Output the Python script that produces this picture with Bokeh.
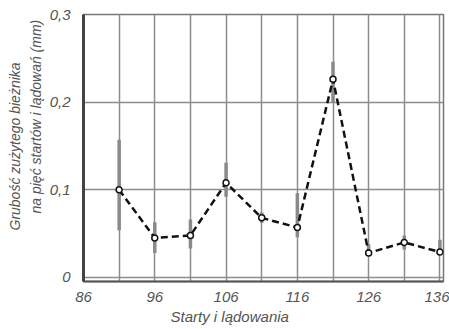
from bokeh.plotting import figure
from bokeh.models import FixedTicker, ColumnDataSource, Range1d, Title
from bokeh.embed import file_html
from bokeh.resources import INLINE

x_vals = [91, 96, 101, 106, 111, 116, 121, 126, 131, 136]
y_vals = [0.100, 0.045, 0.048, 0.108, 0.068, 0.057, 0.226, 0.028, 0.040, 0.029]
err_lo = [0.054, 0.028, 0.033, 0.092, 0.062, 0.046, 0.200, 0.025, 0.032, 0.026]
err_hi = [0.157, 0.063, 0.066, 0.131, 0.074, 0.096, 0.246, 0.038, 0.048, 0.043]
x_ticks = [86, 96, 106, 116, 126, 136]
x_grid = [86, 91, 96, 101, 106, 111, 116, 121, 126, 131, 136]
y_ticks = [0, 0.1, 0.2, 0.3]
y_tick_labels = {0: "0", 0.1: "0,1", 0.2: "0,2", 0.3: "0,3"}
x_title = "Starty i lądowania"
y_title_1 = "Grubość zużytego bieżnika"
y_title_2 = "na pięć startów i lądowań (mm)"

FONT = "Liberation Sans"
TXT = "#555555"

p = figure(width=449, height=329, output_backend="svg", toolbar_location=None,
           x_range=Range1d(86, 136.5), y_range=Range1d(-0.0046, 0.3),
           min_border_left=83, min_border_right=6, min_border_top=14, min_border_bottom=48)
p.background_fill_color = "white"
p.border_fill_color = "white"
p.outline_line_color = "#777777"
p.outline_line_width = 1.5

src = ColumnDataSource(dict(x=x_vals, y=y_vals, lo=err_lo, hi=err_hi))
p.segment(x0="x", y0="lo", x1="x", y1="hi", source=src, line_color="#8a8a8a", line_width=3.5)
p.line(x="x", y="y", source=src, line_color="#111111", line_width=2.5, line_dash="7 4")
p.scatter(x="x", y="y", source=src, size=6, fill_color="white", line_color="#111111", line_width=1.5)

p.xaxis.ticker = FixedTicker(ticks=x_ticks)
p.yaxis.ticker = FixedTicker(ticks=y_ticks)
p.yaxis.major_label_overrides = y_tick_labels
p.xgrid.ticker = FixedTicker(ticks=x_grid)
p.ygrid.ticker = FixedTicker(ticks=y_ticks)
p.xgrid.grid_line_color = "#8c8c8c"
p.ygrid.grid_line_color = "#8c8c8c"
p.xgrid.grid_line_width = 1.5
p.ygrid.grid_line_width = 1.5

for ax in (p.xaxis, p.yaxis):
    ax.major_tick_line_color = None
    ax.minor_tick_line_color = None
    ax.major_label_text_font = FONT
    ax.major_label_text_font_style = "italic"
    ax.major_label_text_font_size = "15px"
    ax.major_label_text_color = TXT

p.yaxis.axis_line_color = "#444444"
p.yaxis.axis_line_width = 3
p.xaxis.axis_line_color = "#555555"
p.xaxis.axis_line_width = 2
p.xaxis.major_label_standoff = 4
p.yaxis.major_label_standoff = 7


def mk_title(text, size, align, offset, standoff):
    t = Title(text=text, align=align, offset=offset, standoff=standoff,
              text_font=FONT, text_font_style="italic", text_font_size=size,
              text_color=TXT)
    return t

p.add_layout(mk_title(y_title_2, "14px", "left", 68, 6), "left")
p.add_layout(mk_title(y_title_1, "14px", "left", 51, 0), "left")
p.add_layout(mk_title(x_title, "15px", "left", 87, 2), "below")

open("out.html", "w").write(file_html(p, INLINE))
